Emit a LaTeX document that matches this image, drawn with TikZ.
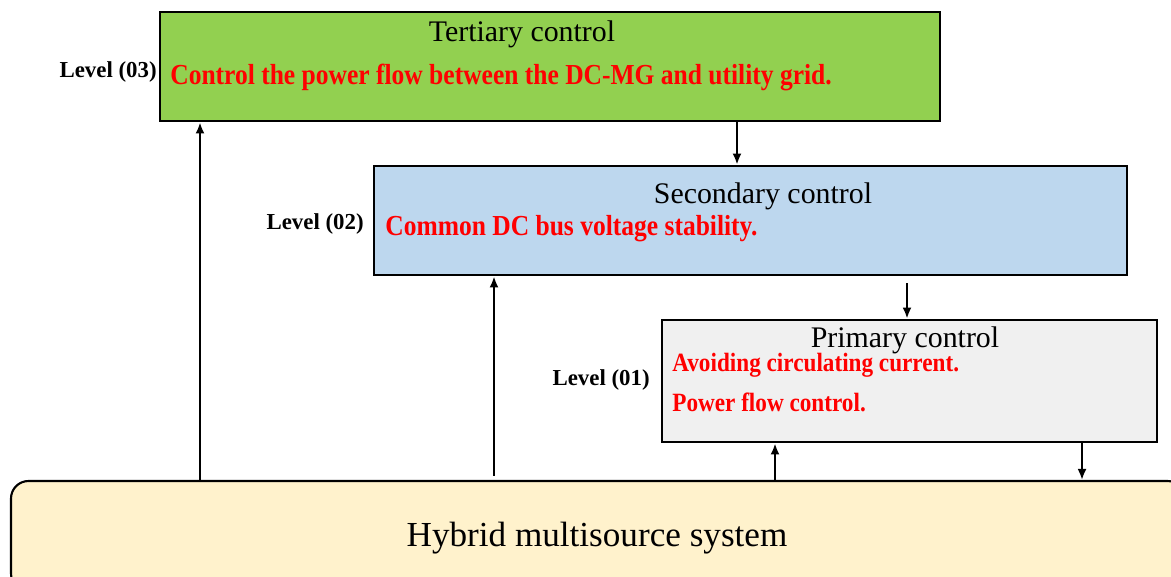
\documentclass[tikz,border=0pt]{standalone}
\usepackage{fontspec}
\setmainfont{Liberation Serif}
\newfontfamily\redfont[FakeStretch=0.88]{Liberation Serif}
\usetikzlibrary{arrows.meta,calc}

\definecolor{tertgreen}{RGB}{146,208,80}
\definecolor{secblue}{RGB}{189,215,238}
\definecolor{primgray}{RGB}{240,240,240}
\definecolor{hybyellow}{RGB}{255,242,204}

\tikzset{
  levelbox/.style={draw=black, line width=1.6pt, inner sep=0pt},
  title/.style={font=\fontsize{17}{20}\selectfont, anchor=base},
  task/.style={font=\redfont\bfseries\fontsize{16.5}{19}\selectfont, text=red, anchor=base west, inner sep=0pt},
  lvl/.style={font=\bfseries\fontsize{13}{15}\selectfont, anchor=base east, inner sep=0pt},
  arr/.style={-{Latex[length=2.2mm,width=1.8mm]}, line width=1.2pt}
}

\begin{document}
\begin{tikzpicture}
  \useasboundingbox (0,0) rectangle (23.42,11.52);

  % control levels
  \node[levelbox, fill=tertgreen, minimum width=15.6cm, minimum height=2.18cm] (tert) at (11.0,10.19) {};
  \node[levelbox, fill=secblue, minimum width=15.06cm, minimum height=2.18cm] (sec) at (15.01,7.11) {};
  \node[levelbox, fill=primgray, minimum width=9.9cm, minimum height=2.44cm] (prim) at (18.19,3.90) {};
  \node[levelbox, line width=1.2pt, fill=hybyellow, rounded corners=0.35cm, minimum width=23.48cm, minimum height=2.2cm] (hyb) at (11.96,0.8) {};

  \node[title] (terttitle) at (10.44,10.68) {Tertiary control};
  \node[title] (sectitle) at (15.26,7.45) {Secondary control};
  \node[title] (primtitle) at (18.1,4.56) {Primary control};
  \node[title, font=\fontsize{20}{24}\selectfont] (hybtitle) at (11.94,0.6) {Hybrid multisource system};

  \node[task] (task3) at (3.4,9.82) {Control the power flow between the DC-MG and utility grid.};
  \node[task] (task2) at (7.7,6.8) {Common DC bus voltage stability.};
  \node[task, font=\redfont\bfseries\fontsize{15}{17}\selectfont] (task1a) at (13.44,4.08) {Avoiding circulating current.};
  \node[task, font=\redfont\bfseries\fontsize{15}{17}\selectfont] (task1b) at (13.44,3.28) {Power flow control.};

  \node[lvl] (lvl3) at (3.14,9.96) {Level (03)};
  \node[lvl] (lvl2) at (7.28,6.92) {Level (02)};
  \node[lvl] (lvl1) at (13.0,3.8) {Level (01)};

  % links
  \coordinate (a1) at (4.0,0);
  \coordinate (a2) at (14.74,0);
  \coordinate (a3) at (9.88,0);
  \coordinate (a4) at (18.14,0);
  \coordinate (a5) at (15.5,0);
  \coordinate (a6) at (21.64,0);
  \draw[arr] (hyb.north -| a1) -- (tert.south -| a1);
  \draw[arr] (tert.south -| a2) -- (sec.north -| a2);
  \draw[arr] ($(hyb.north -| a3)+(0,0.08)$) -- (sec.south -| a3);
  \draw[arr] ($(sec.south -| a4)+(0,-0.14)$) -- (prim.north -| a4);
  \draw[arr] (hyb.north -| a5) -- (prim.south -| a5);
  \draw[arr] (prim.south -| a6) -- (hyb.north -| a6);
\end{tikzpicture}
\end{document}
